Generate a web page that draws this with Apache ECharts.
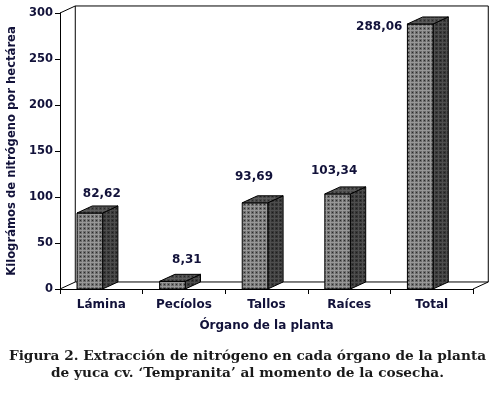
<!DOCTYPE html>
<html>
<head>
<meta charset="utf-8">
<script src="https://cdn.jsdelivr.net/npm/echarts@6/dist/echarts.min.js"></script>
<style>
html,body{margin:0;padding:0;background:#fff;}
#chart{width:495px;height:394px;}
</style>
</head>
<body>
<div id="chart"></div>
<script>
// ---- data ----
const categories = ['Lámina', 'Pecíolos', 'Tallos', 'Raíces', 'Total'];
const values = [82.62, 8.31, 93.69, 103.34, 288.06];
const valueLabels = ['82,62', '8,31', '93,69', '103,34', '288,06'];
const yTicks = [0, 50, 100, 150, 200, 250, 300];
const yAxisTitle = 'Kilográmos de nitrógeno por hectárea';
const xAxisTitle = 'Órgano de la planta';
const captionLines = ['Figura 2. Extracción de nitrógeno en cada órgano de la planta',
                      'de yuca cv. ‘Tempranita’ al momento de la cosecha.'];

// ---- layout (label nudges, px relative to band centre / bar front top) ----
const labelShift = [[0.5, -19], [3, -21], [-12.5, -26], [-15, -23], null];

const TXT = '#12123a';
const FONT = 'DejaVu Sans';

function makePattern(base, light, dark) {
  const c = document.createElement('canvas');
  c.width = 4; c.height = 4;
  const g = c.getContext('2d');
  g.fillStyle = base; g.fillRect(0, 0, 4, 4);
  g.fillStyle = light; g.fillRect(2, 0, 1, 4); g.fillRect(0, 2, 4, 1);
  g.fillStyle = dark; g.fillRect(0, 0, 1, 1);
  return { image: c, repeat: 'repeat' };
}
const frontFill = makePattern('#6c6c6c', '#989898', '#2a2a2a');
const sideFill = makePattern('#363636', '#4e4e4e', '#1c1c1c');
const topFill = makePattern('#474747', '#5c5c5c', '#282828');

const chart = echarts.init(document.getElementById('chart'), null, { renderer: 'canvas' });

function depth(bw) { return [bw * 0.185, -bw * 0.085]; }

function renderBar(params, api) {
  const i = api.value(0);
  const v = api.value(1);
  const base = api.coord([i, 0]);
  const top = api.coord([i, v]);
  const bw = api.size([1, 0])[0];
  const [dx, dy] = depth(bw);
  const x0 = base[0] - 0.3 * bw + 0.5;
  const x1 = x0 + 0.31 * bw;
  const yb = base[1], yt = top[1];
  const children = [
    { type: 'polygon', shape: { points: [[x1, yt], [x1 + dx, yt + dy], [x1 + dx, yb + dy], [x1, yb]] },
      style: { fill: sideFill, stroke: '#000', lineWidth: 1 } },
    { type: 'rect', shape: { x: x0, y: yt, width: x1 - x0, height: yb - yt },
      style: { fill: frontFill, stroke: '#000', lineWidth: 1 } },
    { type: 'polygon', shape: { points: [[x0, yt], [x0 + dx, yt + dy], [x1 + dx, yt + dy], [x1, yt]] },
      style: { fill: topFill, stroke: '#000', lineWidth: 1 } }
  ];
  const sh = labelShift[params.dataIndex];
  let lbl;
  if (sh) {
    lbl = { type: 'text', x: base[0] + sh[0], y: yt + sh[1],
      style: { text: valueLabels[params.dataIndex], fill: TXT, font: 'bold 12px "' + FONT + '"',
               align: 'center', verticalAlign: 'middle' } };
  } else {
    lbl = { type: 'text', x: x0 - 5, y: yt + 3,
      style: { text: valueLabels[params.dataIndex], fill: TXT, font: 'bold 12px "' + FONT + '"',
               align: 'right', verticalAlign: 'middle' } };
  }
  children.push(lbl);
  return { type: 'group', children };
}

function renderWall(params, api) {
  const bw = api.size([1, 0])[0];
  const [dx, dy] = depth(bw);
  const n = categories.length;
  const left = api.coord([0, 0])[0] - bw / 2;
  const right = api.coord([n - 1, 0])[0] + bw / 2;
  const y0 = api.coord([0, yTicks[0]])[1];
  const yT = api.coord([0, yTicks[yTicks.length - 1]])[1];
  const st = { stroke: '#000', lineWidth: 1, fill: null };
  return { type: 'group', children: [
    { type: 'polyline', shape: { points: [[left + dx, yT + dy], [right + dx, yT + dy], [right + dx, y0 + dy], [left + dx, y0 + dy], [left + dx, yT + dy]] }, style: st },
    { type: 'line', shape: { x1: left, y1: yT, x2: left + dx, y2: yT + dy }, style: st },
    { type: 'line', shape: { x1: left, y1: y0, x2: left + dx, y2: y0 + dy }, style: st },
    { type: 'line', shape: { x1: right, y1: y0, x2: right + dx, y2: y0 + dy }, style: st }
  ] };
}

const option = {
  animation: false,
  backgroundColor: '#fff',
  graphic: captionLines.map((t, k) => ({
    type: 'text', left: 'center', top: 349 + k * 17,
    style: { text: t, fill: '#1a1a1a', font: 'bold 13.7px "DejaVu Serif"' }
  })),
  grid: { left: 60, right: 22, top: 13, bottom: 105, containLabel: false, outerBoundsMode: 'none' },
  xAxis: {
    type: 'category',
    data: categories,
    axisLine: { lineStyle: { color: '#000', width: 1 } },
    axisTick: { show: true, length: 5, lineStyle: { color: '#000' } },
    axisLabel: { color: TXT, fontFamily: FONT, fontWeight: 'bold', fontSize: 12, margin: 10 },
    name: xAxisTitle,
    nameLocation: 'middle',
    nameGap: 31,
    nameTextStyle: { color: TXT, fontFamily: FONT, fontWeight: 'bold', fontSize: 12 },
    splitLine: { show: false }
  },
  yAxis: {
    type: 'value',
    min: yTicks[0],
    max: yTicks[yTicks.length - 1],
    interval: yTicks[1] - yTicks[0],
    axisLine: { show: true, lineStyle: { color: '#000', width: 1 } },
    axisTick: { show: true, length: 5, lineStyle: { color: '#000' } },
    axisLabel: { color: TXT, fontFamily: FONT, fontWeight: 'bold', fontSize: 11.5, margin: 7 },
    splitLine: { show: false },
    name: yAxisTitle,
    nameLocation: 'middle',
    nameRotate: 90,
    nameGap: 42,
    nameTextStyle: { color: TXT, fontFamily: FONT, fontWeight: 'bold', fontSize: 11.6 }
  },
  series: [
    { type: 'custom', z: 1, renderItem: renderWall, data: [[0, 0]], silent: true },
    { type: 'custom', z: 2, renderItem: renderBar,
      encode: { x: 0, y: 1 },
      data: values.map((v, i) => [i, v]) }
  ]
};
chart.setOption(option);
</script>
</body>
</html>
